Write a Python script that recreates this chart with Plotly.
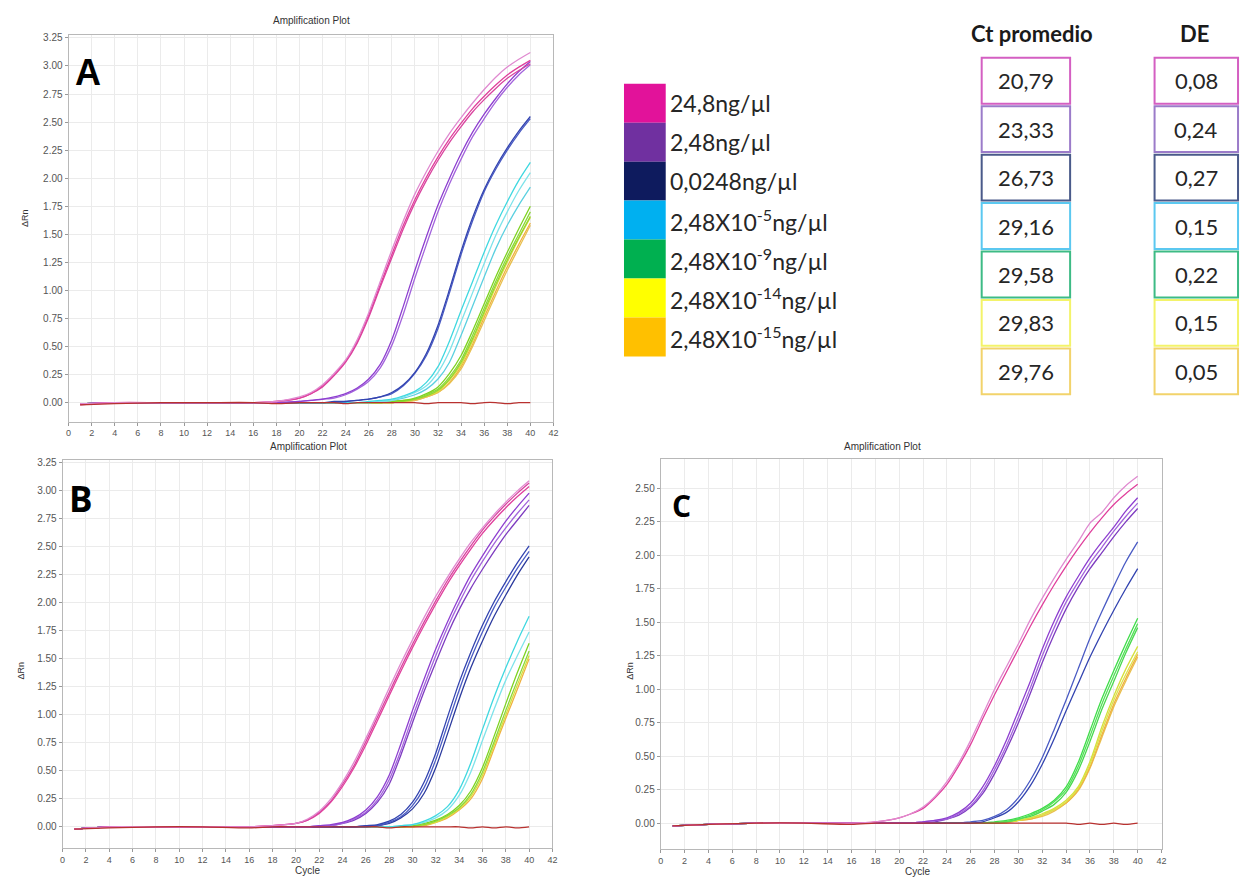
import plotly.graph_objects as go

W, H = 1248, 877

# ---------------- data ----------------
CYCLES = [1, 4, 8, 12, 16, 18, 20, 21, 22, 23, 24, 25, 26, 27, 28, 29, 30,
          31, 32, 33, 34, 35, 36, 37, 38, 39, 40]

# Panel A (delta Rn per cycle)
A_MAG_1 = [-0.01, 0.0, 0.0, 0.0, 0.0, 0.01, 0.05, 0.09, 0.16, 0.26, 0.38, 0.56, 0.80, 1.08, 1.36, 1.62, 1.86, 2.06, 2.24, 2.40, 2.54, 2.67, 2.79, 2.90, 2.99, 3.06, 3.12]
A_MAG_2 = [-0.01, 0.0, 0.0, 0.0, 0.0, 0.01, 0.04, 0.08, 0.15, 0.25, 0.37, 0.54, 0.78, 1.05, 1.32, 1.58, 1.81, 2.01, 2.19, 2.35, 2.49, 2.62, 2.73, 2.83, 2.92, 2.99, 3.05]
A_MAG_3 = [-0.02, 0.0, 0.0, 0.0, 0.0, 0.01, 0.04, 0.08, 0.14, 0.24, 0.36, 0.53, 0.76, 1.03, 1.29, 1.55, 1.78, 1.98, 2.16, 2.32, 2.46, 2.59, 2.70, 2.80, 2.89, 2.96, 3.02]
A_PUR_1 = [-0.01, 0.0, 0.0, 0.0, 0.0, 0.0, 0.01, 0.02, 0.03, 0.05, 0.08, 0.13, 0.21, 0.34, 0.56, 0.86, 1.18, 1.48, 1.76, 2.00, 2.22, 2.41, 2.57, 2.71, 2.84, 2.95, 3.04]
A_PUR_2 = [-0.01, 0.0, 0.0, 0.0, 0.0, 0.0, 0.01, 0.02, 0.03, 0.04, 0.07, 0.12, 0.19, 0.31, 0.51, 0.79, 1.11, 1.41, 1.70, 1.95, 2.17, 2.37, 2.53, 2.68, 2.81, 2.92, 3.01]
A_NAV_1 = [-0.01, 0.0, 0.0, 0.0, 0.0, 0.0, 0.0, 0.0, 0.0, 0.01, 0.01, 0.02, 0.03, 0.05, 0.09, 0.16, 0.27, 0.44, 0.69, 1.01, 1.35, 1.65, 1.90, 2.10, 2.27, 2.42, 2.55]
A_NAV_2 = [-0.01, 0.0, 0.0, 0.0, 0.0, 0.0, 0.0, 0.0, 0.0, 0.0, 0.01, 0.02, 0.03, 0.05, 0.08, 0.15, 0.26, 0.42, 0.66, 0.98, 1.32, 1.62, 1.88, 2.08, 2.25, 2.40, 2.53]
A_CYA_1 = [-0.01, 0.0, 0.0, 0.0, 0.0, 0.0, 0.0, 0.0, 0.0, 0.0, 0.0, 0.0, 0.01, 0.02, 0.03, 0.06, 0.10, 0.18, 0.32, 0.55, 0.82, 1.08, 1.34, 1.58, 1.79, 1.98, 2.14]
A_CYA_2 = [-0.01, 0.0, 0.0, 0.0, 0.0, 0.0, 0.0, 0.0, 0.0, 0.0, 0.0, 0.0, 0.0, 0.01, 0.02, 0.05, 0.09, 0.15, 0.27, 0.46, 0.72, 0.98, 1.24, 1.49, 1.70, 1.89, 2.05]
A_CYA_3 = [-0.01, 0.0, 0.0, 0.0, 0.0, 0.0, 0.0, 0.0, 0.0, 0.0, 0.0, 0.0, 0.0, 0.01, 0.02, 0.04, 0.07, 0.12, 0.21, 0.36, 0.60, 0.86, 1.12, 1.37, 1.58, 1.76, 1.92]
A_GRN_1 = [-0.01, 0.0, 0.0, 0.0, 0.0, 0.0, 0.0, 0.0, 0.0, 0.0, 0.0, 0.0, 0.0, 0.0, 0.01, 0.02, 0.04, 0.08, 0.14, 0.26, 0.42, 0.64, 0.88, 1.12, 1.34, 1.55, 1.75]
A_GRN_2 = [-0.01, 0.0, 0.0, 0.0, 0.0, 0.0, 0.0, 0.0, 0.0, 0.0, 0.0, 0.0, 0.0, 0.0, 0.01, 0.02, 0.03, 0.07, 0.12, 0.23, 0.38, 0.60, 0.84, 1.08, 1.30, 1.50, 1.70]
A_GRN_3 = [-0.01, 0.0, 0.0, 0.0, 0.0, 0.0, 0.0, 0.0, 0.0, 0.0, 0.0, 0.0, 0.0, 0.0, 0.0, 0.01, 0.03, 0.06, 0.11, 0.21, 0.36, 0.57, 0.81, 1.05, 1.27, 1.47, 1.66]
A_YEL_1 = [-0.01, 0.0, 0.0, 0.0, 0.0, 0.0, 0.0, 0.0, 0.0, 0.0, 0.0, 0.0, 0.0, 0.0, 0.0, 0.01, 0.03, 0.06, 0.10, 0.20, 0.34, 0.55, 0.79, 1.03, 1.25, 1.46, 1.65]
A_ORA_1 = [-0.01, 0.0, 0.0, 0.0, 0.0, 0.0, 0.0, 0.0, 0.0, 0.0, 0.0, 0.0, 0.0, 0.0, 0.0, 0.01, 0.02, 0.05, 0.09, 0.18, 0.32, 0.52, 0.76, 0.99, 1.21, 1.41, 1.60]
A_ORA_2 = [-0.01, 0.0, 0.0, 0.0, 0.0, 0.0, 0.0, 0.0, 0.0, 0.0, 0.0, 0.0, 0.0, 0.0, 0.0, 0.01, 0.02, 0.05, 0.09, 0.17, 0.30, 0.50, 0.73, 0.96, 1.18, 1.38, 1.58]
A_NTC = [-0.02, -0.01, 0.0, 0.0, 0.0, -0.01, 0.0, 0.0, 0.0, 0.0, -0.01, 0.0, 0.0, 0.0, 0.0, 0.0, 0.0, -0.01, 0.0, 0.0, 0.0, -0.01, 0.0, 0.0, -0.01, 0.0, 0.0]

# Panel B
B_MAG_1 = [-0.02, 0.0, 0.0, 0.0, 0.0, 0.01, 0.03, 0.07, 0.14, 0.25, 0.40, 0.58, 0.79, 1.01, 1.24, 1.46, 1.67, 1.87, 2.06, 2.23, 2.39, 2.54, 2.67, 2.79, 2.90, 3.00, 3.09]
B_MAG_2 = [-0.02, 0.0, 0.0, 0.0, 0.0, 0.01, 0.03, 0.06, 0.12, 0.22, 0.36, 0.53, 0.73, 0.95, 1.17, 1.39, 1.60, 1.80, 1.99, 2.17, 2.33, 2.48, 2.62, 2.74, 2.85, 2.95, 3.04]
B_MAG_3 = [-0.02, 0.0, 0.0, 0.0, 0.0, 0.01, 0.03, 0.06, 0.13, 0.23, 0.38, 0.55, 0.76, 0.98, 1.20, 1.42, 1.63, 1.83, 2.02, 2.20, 2.36, 2.51, 2.65, 2.77, 2.88, 2.98, 3.07]
B_PUR_1 = [-0.02, 0.0, 0.0, 0.0, 0.0, 0.0, 0.0, 0.0, 0.01, 0.02, 0.04, 0.08, 0.15, 0.27, 0.46, 0.74, 1.04, 1.32, 1.59, 1.83, 2.05, 2.25, 2.42, 2.58, 2.73, 2.86, 2.98]
B_PUR_2 = [-0.02, 0.0, 0.0, 0.0, 0.0, 0.0, 0.0, 0.0, 0.01, 0.01, 0.03, 0.07, 0.13, 0.24, 0.42, 0.68, 0.98, 1.26, 1.53, 1.78, 2.00, 2.20, 2.37, 2.53, 2.67, 2.80, 2.92]
B_PUR_3 = [-0.02, 0.0, 0.0, 0.0, 0.0, 0.0, 0.0, 0.0, 0.0, 0.01, 0.03, 0.06, 0.12, 0.22, 0.38, 0.64, 0.93, 1.21, 1.47, 1.72, 1.94, 2.13, 2.30, 2.46, 2.61, 2.74, 2.87]
B_NAV_1 = [-0.02, 0.0, 0.0, 0.0, 0.0, 0.0, 0.0, 0.0, 0.0, 0.0, 0.0, 0.0, 0.01, 0.02, 0.05, 0.11, 0.22, 0.40, 0.66, 0.98, 1.29, 1.56, 1.80, 2.01, 2.19, 2.36, 2.51]
B_NAV_2 = [-0.02, 0.0, 0.0, 0.0, 0.0, 0.0, 0.0, 0.0, 0.0, 0.0, 0.0, 0.0, 0.01, 0.01, 0.04, 0.09, 0.19, 0.35, 0.60, 0.91, 1.22, 1.50, 1.74, 1.96, 2.14, 2.31, 2.46]
B_NAV_3 = [-0.02, 0.0, 0.0, 0.0, 0.0, 0.0, 0.0, 0.0, 0.0, 0.0, 0.0, 0.0, 0.0, 0.01, 0.03, 0.08, 0.16, 0.30, 0.53, 0.83, 1.14, 1.42, 1.66, 1.88, 2.07, 2.25, 2.41]
B_CYA_1 = [-0.02, 0.0, 0.0, 0.0, 0.0, 0.0, 0.0, 0.0, 0.0, 0.0, 0.0, 0.0, 0.0, 0.0, 0.0, 0.01, 0.02, 0.05, 0.10, 0.18, 0.33, 0.57, 0.87, 1.16, 1.42, 1.66, 1.88]
B_CYA_2 = [-0.02, 0.0, 0.0, 0.0, 0.0, 0.0, 0.0, 0.0, 0.0, 0.0, 0.0, 0.0, 0.0, 0.0, 0.0, 0.01, 0.02, 0.04, 0.08, 0.15, 0.28, 0.49, 0.77, 1.05, 1.31, 1.53, 1.74]
B_GRN_1 = [-0.02, 0.0, 0.0, 0.0, 0.0, 0.0, 0.0, 0.0, 0.0, 0.0, 0.0, 0.0, 0.0, 0.0, 0.0, 0.0, 0.01, 0.03, 0.06, 0.11, 0.19, 0.32, 0.53, 0.81, 1.10, 1.38, 1.64]
B_GRN_2 = [-0.02, 0.0, 0.0, 0.0, 0.0, 0.0, 0.0, 0.0, 0.0, 0.0, 0.0, 0.0, 0.0, 0.0, 0.0, 0.0, 0.01, 0.02, 0.05, 0.10, 0.17, 0.29, 0.49, 0.76, 1.04, 1.31, 1.57]
B_YEL_1 = [-0.02, 0.0, 0.0, 0.0, 0.0, 0.0, 0.0, 0.0, 0.0, 0.0, 0.0, 0.0, 0.0, 0.0, 0.0, 0.0, 0.0, 0.02, 0.04, 0.09, 0.16, 0.27, 0.46, 0.73, 1.00, 1.27, 1.53]
B_ORA_1 = [-0.02, 0.0, 0.0, 0.0, 0.0, 0.0, 0.0, 0.0, 0.0, 0.0, 0.0, 0.0, 0.0, 0.0, 0.0, 0.0, 0.0, 0.01, 0.04, 0.08, 0.15, 0.25, 0.43, 0.70, 0.97, 1.23, 1.50]
B_NTC = [-0.02, -0.01, 0.0, 0.0, -0.01, 0.0, 0.0, 0.0, 0.0, 0.0, 0.0, 0.0, 0.0, 0.0, -0.01, 0.0, 0.0, 0.0, 0.0, 0.0, 0.0, -0.01, 0.0, -0.01, 0.0, -0.01, 0.0]

# Panel C
C_MAG_1 = [-0.02, -0.01, 0.0, 0.0, 0.0, 0.01, 0.04, 0.07, 0.12, 0.20, 0.31, 0.45, 0.62, 0.81, 1.00, 1.17, 1.34, 1.52, 1.68, 1.83, 1.97, 2.10, 2.24, 2.32, 2.43, 2.52, 2.59]
C_MAG_2 = [-0.02, -0.01, 0.0, 0.0, 0.0, 0.01, 0.04, 0.07, 0.11, 0.19, 0.29, 0.43, 0.59, 0.78, 0.96, 1.13, 1.30, 1.47, 1.63, 1.78, 1.92, 2.05, 2.17, 2.28, 2.38, 2.46, 2.53]
C_PUR_1 = [-0.02, -0.01, 0.0, 0.0, 0.0, 0.0, 0.0, 0.0, 0.01, 0.02, 0.04, 0.08, 0.15, 0.27, 0.43, 0.62, 0.84, 1.06, 1.30, 1.51, 1.69, 1.84, 1.98, 2.10, 2.21, 2.33, 2.43]
C_PUR_2 = [-0.02, -0.01, 0.0, 0.0, 0.0, 0.0, 0.0, 0.0, 0.01, 0.02, 0.03, 0.07, 0.13, 0.24, 0.40, 0.58, 0.79, 1.01, 1.25, 1.46, 1.65, 1.80, 1.94, 2.06, 2.18, 2.29, 2.39]
C_PUR_3 = [-0.02, -0.01, 0.0, 0.0, 0.0, 0.0, 0.0, 0.0, 0.0, 0.01, 0.03, 0.06, 0.12, 0.22, 0.37, 0.55, 0.75, 0.97, 1.20, 1.41, 1.60, 1.76, 1.90, 2.02, 2.14, 2.25, 2.35]
C_NAV_1 = [-0.02, -0.01, 0.0, 0.0, 0.0, 0.0, 0.0, 0.0, 0.0, 0.0, 0.0, 0.0, 0.01, 0.02, 0.05, 0.10, 0.19, 0.32, 0.49, 0.70, 0.92, 1.15, 1.38, 1.58, 1.77, 1.95, 2.10]
C_NAV_2 = [-0.02, -0.01, 0.0, 0.0, 0.0, 0.0, 0.0, 0.0, 0.0, 0.0, 0.0, 0.0, 0.0, 0.01, 0.04, 0.08, 0.16, 0.28, 0.44, 0.63, 0.84, 1.04, 1.24, 1.42, 1.59, 1.75, 1.90]
C_GRN_1 = [-0.02, -0.01, 0.0, 0.0, 0.0, 0.0, 0.0, 0.0, 0.0, 0.0, 0.0, 0.0, 0.0, 0.0, 0.01, 0.02, 0.04, 0.07, 0.11, 0.17, 0.27, 0.45, 0.69, 0.93, 1.14, 1.34, 1.53]
C_GRN_2 = [-0.02, -0.01, 0.0, 0.0, 0.0, 0.0, 0.0, 0.0, 0.0, 0.0, 0.0, 0.0, 0.0, 0.0, 0.0, 0.01, 0.03, 0.06, 0.10, 0.16, 0.25, 0.42, 0.65, 0.89, 1.10, 1.30, 1.49]
C_GRN_3 = [-0.02, -0.01, 0.0, 0.0, 0.0, 0.0, 0.0, 0.0, 0.0, 0.0, 0.0, 0.0, 0.0, 0.0, 0.0, 0.01, 0.03, 0.05, 0.09, 0.14, 0.23, 0.39, 0.61, 0.85, 1.06, 1.27, 1.46]
C_YEL_1 = [-0.02, -0.01, 0.0, 0.0, 0.0, 0.0, 0.0, 0.0, 0.0, 0.0, 0.0, 0.0, 0.0, 0.0, 0.0, 0.01, 0.02, 0.04, 0.07, 0.11, 0.17, 0.27, 0.46, 0.72, 0.95, 1.15, 1.32]
C_YEL_2 = [-0.02, -0.01, 0.0, 0.0, 0.0, 0.0, 0.0, 0.0, 0.0, 0.0, 0.0, 0.0, 0.0, 0.0, 0.0, 0.01, 0.02, 0.04, 0.06, 0.10, 0.16, 0.26, 0.44, 0.69, 0.92, 1.11, 1.28]
C_ORA_1 = [-0.02, -0.01, 0.0, 0.0, 0.0, 0.0, 0.0, 0.0, 0.0, 0.0, 0.0, 0.0, 0.0, 0.0, 0.0, 0.01, 0.02, 0.03, 0.06, 0.10, 0.15, 0.25, 0.42, 0.66, 0.89, 1.08, 1.26]
C_ORA_2 = [-0.02, -0.01, 0.0, 0.0, 0.0, 0.0, 0.0, 0.0, 0.0, 0.0, 0.0, 0.0, 0.0, 0.0, 0.0, 0.0, 0.02, 0.03, 0.05, 0.09, 0.15, 0.24, 0.41, 0.64, 0.87, 1.06, 1.24]
C_NTC = [-0.02, -0.01, 0.0, 0.0, -0.01, 0.0, 0.0, 0.0, 0.0, 0.0, 0.0, 0.0, 0.0, 0.0, 0.0, 0.0, 0.0, 0.0, 0.0, 0.0, 0.0, -0.01, 0.0, -0.01, 0.0, -0.01, 0.0]

# Legend / table
CONC_LABELS = ["24,8ng/µl", "2,48ng/µl", "0,0248ng/µl",
               "2,48X10<sup>-5</sup>ng/µl", "2,48X10<sup>-9</sup>ng/µl",
               "2,48X10<sup>-14</sup>ng/µl", "2,48X10<sup>-15</sup>ng/µl"]
CT_MEAN = [20.79, 23.33, 26.73, 29.16, 29.58, 29.83, 29.76]
CT_SD = [0.08, 0.24, 0.27, 0.15, 0.22, 0.15, 0.05]

# ---------------- styles ----------------
SWATCH_COLORS = ["#E2129A", "#7030A0", "#0E1B5E", "#00B0F0", "#00B050", "#FFFF00", "#FFC000"]
BOX_COLORS = ["#D45FC2", "#9B7BC9", "#4A5A8A", "#5BC8F0", "#3DBB85", "#F3F36A", "#F2D36B"]

MAG = ["#E08AD0", "#E0409C", "#D9449F"]
PUR = ["#8E3FD0", "#A364DC", "#7E3CC0"]
NAV = ["#3344B0", "#4A5BC4", "#2B3A9E"]
CYA = ["#40D8E0", "#7EE3EA", "#5BD0E0"]
GRN = ["#7ED321", "#8BD83A", "#94D62E"]
GRN_C = ["#3FDD4A", "#55E05A", "#4AD850"]
YEL = ["#D6E03C", "#DDE24A"]
ORA = ["#F0B040", "#E8C050"]
NTC_COLOR = "#B8312F"

panels = {
    "A": [(A_ORA_1, ORA[0]), (A_ORA_2, ORA[1]), (A_YEL_1, YEL[0]),
          (A_GRN_3, GRN[2]), (A_GRN_2, GRN[1]), (A_GRN_1, GRN[0]),
          (A_CYA_3, CYA[2]), (A_CYA_2, CYA[1]), (A_CYA_1, CYA[0]),
          (A_NAV_2, NAV[1]), (A_NAV_1, NAV[0]),
          (A_PUR_2, PUR[1]), (A_PUR_1, PUR[0]),
          (A_MAG_3, MAG[2]), (A_MAG_2, MAG[1]), (A_MAG_1, MAG[0]),
          (A_NTC, NTC_COLOR)],
    "B": [(B_ORA_1, ORA[0]), (B_YEL_1, YEL[0]), (B_GRN_2, GRN[1]), (B_GRN_1, GRN[0]),
          (B_CYA_2, CYA[1]), (B_CYA_1, CYA[0]),
          (B_NAV_3, NAV[2]), (B_NAV_2, NAV[1]), (B_NAV_1, NAV[0]),
          (B_PUR_3, PUR[2]), (B_PUR_2, PUR[1]), (B_PUR_1, PUR[0]),
          (B_MAG_2, MAG[1]), (B_MAG_3, MAG[2]), (B_MAG_1, MAG[0]),
          (B_NTC, NTC_COLOR)],
    "C": [(C_ORA_2, ORA[1]), (C_ORA_1, ORA[0]), (C_YEL_2, YEL[1]), (C_YEL_1, YEL[0]),
          (C_GRN_3, GRN_C[2]), (C_GRN_2, GRN_C[1]), (C_GRN_1, GRN_C[0]),
          (C_NAV_2, NAV[0]), (C_NAV_1, NAV[1]),
          (C_PUR_3, PUR[2]), (C_PUR_2, PUR[1]), (C_PUR_1, PUR[0]),
          (C_MAG_2, MAG[1]), (C_MAG_1, MAG[0]),
          (C_NTC, NTC_COLOR)],
}
axis_ids = {"A": ("x", "y"), "B": ("x2", "y2"), "C": ("x3", "y3")}

fig = go.Figure()
for key, curves in panels.items():
    xa, ya = axis_ids[key]
    for vals, col in curves:
        assert len(vals) == len(CYCLES), (key, len(vals))
        fig.add_trace(go.Scatter(x=CYCLES, y=vals, mode="lines", xaxis=xa, yaxis=ya,
                                 line=dict(color=col, width=1.3, shape="spline", smoothing=0.7),
                                 showlegend=False, hoverinfo="skip"))


def px(x):
    return x / W


def py(y):
    return 1 - y / H


TICKFONT = dict(family="Liberation Sans, Arial, sans-serif", size=9, color="#555")
common_x = dict(range=[0, 42], tick0=0, dtick=2, showgrid=True, gridcolor="#ebebeb", gridwidth=1,
                zeroline=False, showline=True, linecolor="#b8b8b8", linewidth=1, mirror=True,
                ticks="outside", ticklen=3, tickcolor="#999", tickfont=TICKFONT)
common_y = dict(tick0=0, dtick=0.25, tickformat=".2f", showgrid=True, gridcolor="#ebebeb", gridwidth=1,
                zeroline=False, showline=True, linecolor="#b8b8b8", linewidth=1, mirror=True,
                ticks="outside", ticklen=3, tickcolor="#999",
                tickfont=dict(family="Liberation Sans, Arial, sans-serif", size=10, color="#555"))

fig.update_layout(
    width=W, height=H, margin=dict(l=0, r=0, t=0, b=0),
    paper_bgcolor="white", plot_bgcolor="white",
    xaxis=dict(common_x, domain=[px(66), px(554)], anchor="y"),
    yaxis=dict(common_y, domain=[py(420), py(32)], range=[-0.169, 3.277], anchor="x"),
    xaxis2=dict(common_x, domain=[px(60), px(553)], anchor="y2"),
    yaxis2=dict(common_y, domain=[py(848), py(459)], range=[-0.19, 3.272], anchor="x2"),
    xaxis3=dict(common_x, domain=[px(662), px(1166)], anchor="y3"),
    yaxis3=dict(common_y, domain=[py(849), py(458)], range=[-0.194, 2.716], anchor="x3"),
)

ann = []
shapes = []
SMALL = "Liberation Sans, Arial, sans-serif"


def text(x, y, s, size, color="#333", family=SMALL, xanchor="center", angle=0):
    ann.append(dict(x=px(x), y=py(y), xref="paper", yref="paper", text=s, showarrow=False,
                    xanchor=xanchor, yanchor="middle", textangle=angle,
                    font=dict(family=family, size=size, color=color)))


# panel decorations
text(310, 18, "Amplification Plot", 10)
text(307, 445, "Amplification Plot", 10)
text(885, 445, "Amplification Plot", 10)
text(22, 216, "ΔRn", 9, angle=-90)
text(18, 670, "ΔRn", 9, angle=-90)
text(631, 670, "ΔRn", 9, angle=-90)
text(306, 870, "Cycle", 10)
text(920, 871, "Cycle", 10)
text(86, 70, "<b>A</b>", 36, color="#000")
text(79, 497, "<b>B</b>", 35, color="#000", family="Open Sans, sans-serif")
text(683, 504, "<b>C</b>", 30, color="#000", family="Open Sans, sans-serif")

# legend swatches + labels
SW_TOP, SW_H = 81, 39.1
LEGFONT = "Lato, Open Sans, sans-serif"
for i, (lab, col) in enumerate(zip(CONC_LABELS, SWATCH_COLORS)):
    y0 = SW_TOP + i * SW_H
    shapes.append(dict(type="rect", xref="paper", yref="paper", x0=px(625), x1=px(667),
                       y0=py(y0 + SW_H), y1=py(y0), fillcolor=col, line=dict(width=0)))
    text(669, y0 + SW_H / 2, lab, 23, color="#262626", family=LEGFONT, xanchor="left")

# table
text(1036, 31, "<b>Ct promedio</b>", 22, color="#1a1a1a", family=LEGFONT)
text(1199, 31, "<b>DE</b>", 22, color="#1a1a1a", family=LEGFONT)
ROW_TOP, ROW_PITCH, ROW_H = 55, 48.6, 46
for i, (ct, sd, col) in enumerate(zip(CT_MEAN, CT_SD, BOX_COLORS)):
    y0 = ROW_TOP + i * ROW_PITCH
    for (xl, xr, val) in [(985, 1074, ct), (1159, 1243, sd)]:
        shapes.append(dict(type="rect", xref="paper", yref="paper", x0=px(xl), x1=px(xr),
                           y0=py(y0 + ROW_H), y1=py(y0), fillcolor="white",
                           line=dict(color=col, width=2)))
        text((xl + xr) / 2, y0 + ROW_H / 2, f"{val:.2f}".replace(".", ","), 22,
             color="#262626", family=LEGFONT)

fig.update_layout(annotations=ann, shapes=shapes)

fig.write_html("out.html", config={"displayModeBar": False},
               post_script="document.body.style.margin='0';document.body.style.overflow='hidden';")
